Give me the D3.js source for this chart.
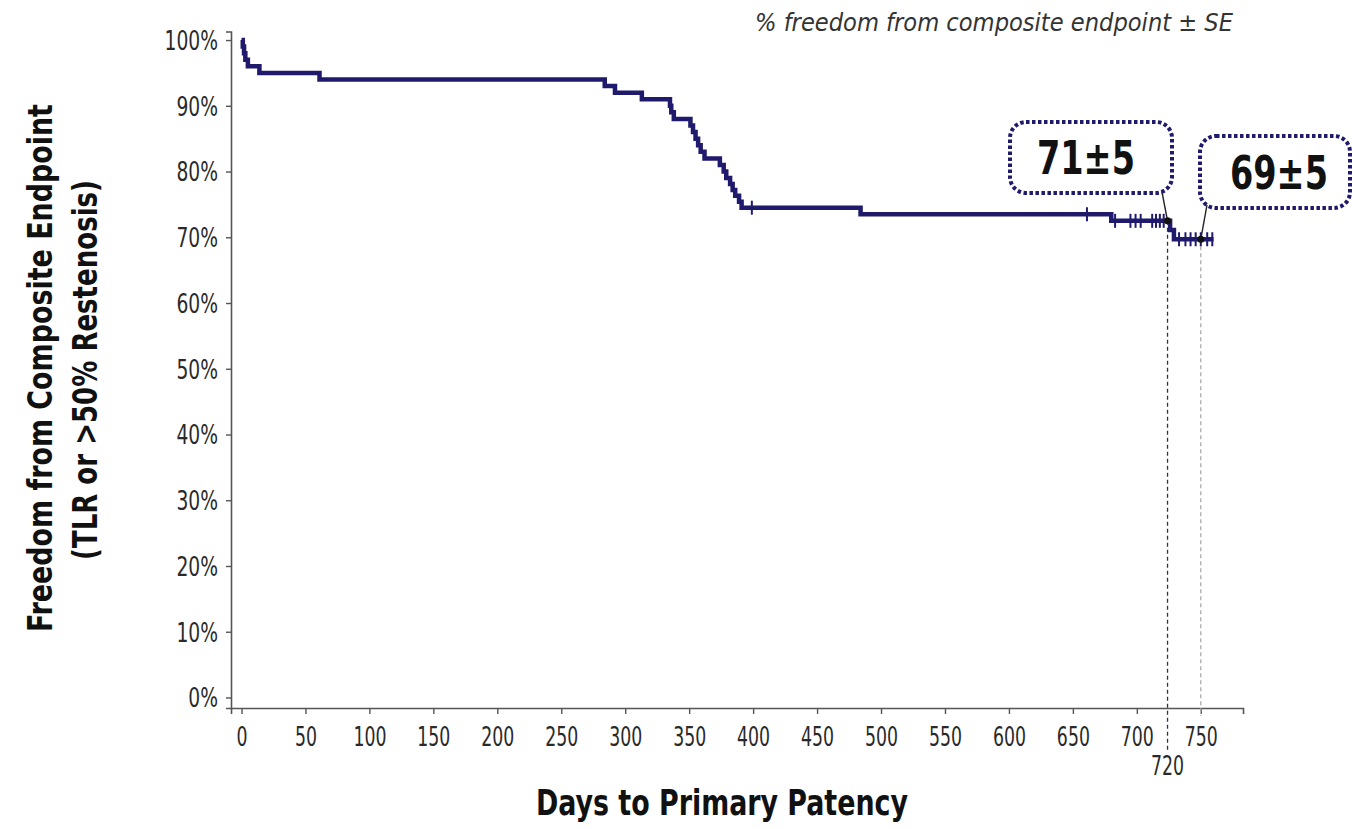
<!DOCTYPE html>
<html>
<head>
<meta charset="utf-8">
<script src="https://cdn.jsdelivr.net/npm/d3@7"></script>
<style>
  body { margin: 0; background: #fff; }
  svg { display: block; }
  .narrow { font-family: "Liberation Sans Narrow", "DejaVu Sans Condensed", "Roboto", sans-serif; font-stretch: condensed; }
</style>
</head>
<body>
<div class="chart"></div>
<script>
const width = 1352;
const height = 829;

// Kaplan-Meier steps (day, % free from endpoint)
const stepDays = [0, 1, 2, 3, 5, 14, 61, 284, 292, 313, 335, 336, 338, 351, 353, 355, 357, 359, 362,
  374, 377, 379, 382, 384, 386, 389, 391, 484, 680, 726, 729, 760];
const stepSurv = [100, 99, 98, 97, 96, 95, 94, 93, 92, 91, 90, 89, 88, 87, 86, 85, 84, 83, 82,
  81, 80, 79, 78.1, 77.2, 76.3, 75.4, 74.5, 73.5, 72.5, 71.1, 69.7, 69.7];
// censored patients (the little vertical ticks)
const censorDays = [399, 661, 683, 695, 699, 703, 712, 715, 718, 721, 733, 738, 742, 746, 750, 755, 759];

const xTicks = d3.range(0, 751, 50);
const yTicks = d3.range(0, 101, 10);

// call-outs at the two marked time points
const markDays = [724, 750];
const markLabels = ['71\u00b15', '69\u00b15'];
const markDayLabel = '720';

const xAxisLabel = 'Days to Primary Patency';
const yAxisLabel1 = 'Freedom from Composite Endpoint';
const yAxisLabel2 = '(TLR or >50% Restenosis)';
const noteText = '% freedom from composite endpoint \u00b1 SE';

const navy = '#1f1a6c';

const svg = d3.select('.chart').append('svg')
  .attr('width', width)
  .attr('height', height);

const xScale = d3.scaleLinear().domain([-8.2, 783]).range([231, 1243]);
const yScale = d3.scaleLinear().domain([-1.6, 101.3]).range([708, 31.5]);

// survival value at a given day (step function)
const survAt = d => stepSurv[Math.max(0, d3.bisectRight(stepDays, d) - 1)];

// squeeze text horizontally so it looks like the condensed font of the original
const squeeze = (sel, k) => sel.each(function() {
  const len = this.getComputedTextLength();
  d3.select(this).attr('textLength', len * k).attr('lengthAdjust', 'spacingAndGlyphs');
});

// axes
const xAxis = d3.axisBottom(xScale).tickValues(xTicks).tickSizeOuter(0).tickSize(6);
const yAxis = d3.axisLeft(yScale).tickValues(yTicks).tickSizeOuter(0).tickSize(5).tickFormat(d => d + '%');

const gx = svg.append('g')
  .attr('transform', `translate(0, ${yScale.range()[0]})`)
  .call(xAxis);
const gy = svg.append('g')
  .attr('transform', `translate(${xScale.range()[0]}, 0)`)
  .call(yAxis);

[gx, gy].forEach(g => {
  g.select('.domain').attr('stroke', '#555').attr('stroke-width', 1.6);
  g.selectAll('.tick line').attr('stroke', '#555').attr('stroke-width', 1.4);
  g.selectAll('.tick text')
    .attr('class', 'narrow')
    .attr('fill', '#2a2a2a')
    .style('font-size', '26px');
});
gx.selectAll('.tick text').attr('y', 38).attr('dy', 0);
gy.selectAll('.tick text').attr('x', -13).attr('dy', '0.36em');
squeeze(gx.selectAll('.tick text'), 0.74);
squeeze(gy.selectAll('.tick text'), 0.8);

// dashed drop lines to the axis
svg.append('line')
  .attr('x1', xScale(markDays[0])).attr('x2', xScale(markDays[0]))
  .attr('y1', yScale(survAt(markDays[0]))).attr('y2', 752)
  .attr('stroke', '#333').attr('stroke-width', 1.3).attr('stroke-dasharray', '4,3');
svg.append('line')
  .attr('x1', xScale(markDays[1])).attr('x2', xScale(markDays[1]))
  .attr('y1', yScale(survAt(markDays[1]))).attr('y2', 716)
  .attr('stroke', '#aaa').attr('stroke-width', 1.3).attr('stroke-dasharray', '4,3');
svg.append('text')
  .attr('class', 'narrow')
  .attr('x', xScale(markDays[0])).attr('y', 775)
  .attr('text-anchor', 'middle')
  .attr('fill', '#2a2a2a')
  .style('font-size', '26px')
  .text(markDayLabel)
  .call(squeeze, 0.74);

// the KM curve
const line = d3.line()
  .x((d, i) => xScale(d))
  .y((d, i) => yScale(stepSurv[i]))
  .curve(d3.curveStepAfter);

svg.append('path')
  .datum(stepDays)
  .attr('d', line)
  .attr('fill', 'none')
  .attr('stroke', navy)
  .attr('stroke-width', 4.5);

svg.selectAll('.censor')
  .data(censorDays)
  .enter().append('line')
  .attr('class', 'censor')
  .attr('x1', d => xScale(d)).attr('x2', d => xScale(d))
  .attr('y1', d => yScale(survAt(d)) - 7)
  .attr('y2', d => yScale(survAt(d)) + 7)
  .attr('stroke', navy)
  .attr('stroke-width', 2);

// call-out boxes
const boxes = [
  {x: 1010, y: 122, w: 162, h: 71, tx: 1086, ty: 174, lx: 1162, ly: 192},
  {x: 1200, y: 136, w: 150, h: 72, tx: 1279, ty: 189, lx: 1207, ly: 205}
];

boxes.forEach((b, i) => {
  const px = xScale(markDays[i]);
  const py = yScale(survAt(markDays[i]));
  svg.append('line')
    .attr('x1', b.lx).attr('y1', b.ly).attr('x2', px).attr('y2', py)
    .attr('stroke', '#222').attr('stroke-width', 1.4);
  svg.append('circle')
    .attr('cx', px).attr('cy', py).attr('r', 3.5)
    .attr('fill', '#111');
  svg.append('rect')
    .attr('x', b.x).attr('y', b.y).attr('width', b.w).attr('height', b.h)
    .attr('rx', 16).attr('ry', 16)
    .attr('fill', 'none')
    .attr('stroke', navy)
    .attr('stroke-width', 4)
    .attr('stroke-dasharray', '3.5,2.5');
  svg.append('text')
    .attr('class', 'narrow')
    .attr('x', b.tx).attr('y', b.ty)
    .attr('text-anchor', 'middle')
    .attr('font-weight', 'bold')
    .attr('fill', '#111')
    .attr('textLength', 98)
    .attr('lengthAdjust', 'spacingAndGlyphs')
    .style('font-size', '46px')
    .text(markLabels[i]);
});

// titles
svg.append('text')
  .attr('class', 'narrow')
  .attr('x', 722).attr('y', 815)
  .attr('text-anchor', 'middle')
  .attr('font-weight', 'bold')
  .attr('fill', '#111')
  .attr('textLength', 372)
  .attr('lengthAdjust', 'spacingAndGlyphs')
  .style('font-size', '35px')
  .text(xAxisLabel);

svg.append('g')
  .attr('transform', 'translate(52, 368) rotate(-90)')
  .append('text')
  .attr('class', 'narrow')
  .attr('text-anchor', 'middle')
  .attr('font-weight', 'bold')
  .attr('fill', '#111')
  .attr('textLength', 528)
  .attr('lengthAdjust', 'spacingAndGlyphs')
  .style('font-size', '33px')
  .text(yAxisLabel1);

svg.append('g')
  .attr('transform', 'translate(97, 370) rotate(-90)')
  .append('text')
  .attr('class', 'narrow')
  .attr('text-anchor', 'middle')
  .attr('font-weight', 'bold')
  .attr('fill', '#111')
  .attr('textLength', 380)
  .attr('lengthAdjust', 'spacingAndGlyphs')
  .style('font-size', '33px')
  .text(yAxisLabel2);

svg.append('text')
  .attr('class', 'narrow')
  .attr('x', 755).attr('y', 31)
  .attr('font-style', 'italic')
  .attr('fill', '#333')
  .attr('textLength', 478)
  .attr('lengthAdjust', 'spacingAndGlyphs')
  .style('font-size', '24px')
  .text(noteText);
</script>
</body>
</html>
